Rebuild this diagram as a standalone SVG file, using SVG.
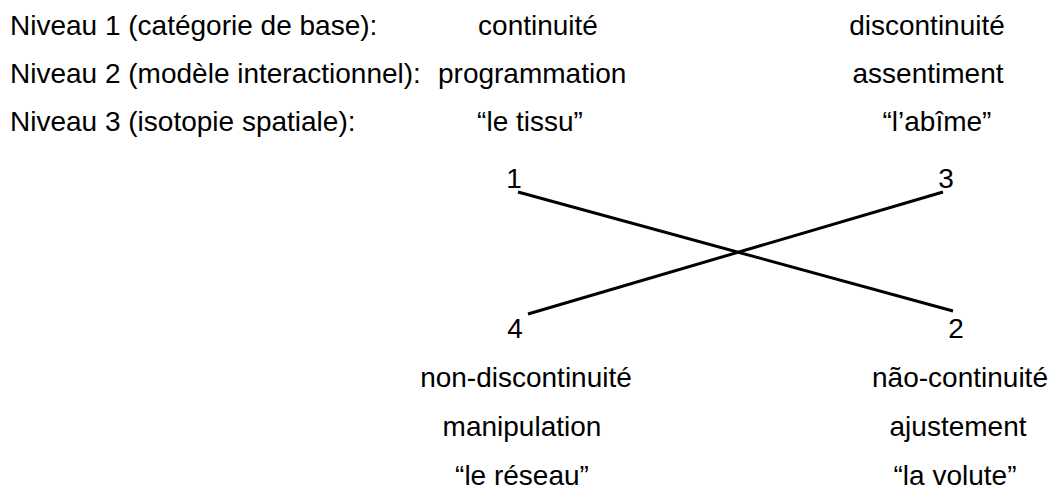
<svg xmlns="http://www.w3.org/2000/svg" width="1061" height="493" viewBox="0 0 1061 493">
<style>
text{font-family:"Liberation Sans",Arial,sans-serif;font-size:28px;fill:#000}
.m{text-anchor:middle}
line{stroke:#000;stroke-width:3;stroke-linecap:butt}
</style>
<rect width="1061" height="493" fill="#fff"/>
<g id="levels">
<text x="10" y="35">Niveau 1 (catégorie de base):</text>
<text x="10" y="83">Niveau 2 (modèle interactionnel):</text>
<text x="10" y="131">Niveau 3 (isotopie spatiale):</text>
</g>
<g id="node1">
<text class="m" x="538" y="35">continuité</text>
<text x="438" y="83">programmation</text>
<text class="m" x="530" y="131">“le tissu”</text>
<text class="m" x="514" y="188">1</text>
</g>
<g id="node3">
<text class="m" x="927" y="35">discontinuité</text>
<text class="m" x="928" y="83">assentiment</text>
<text class="m" x="937" y="131">“l’abîme”</text>
<text class="m" x="946" y="188">3</text>
</g>
<g id="node4">
<text class="m" x="515" y="338">4</text>
<text class="m" x="526" y="387">non-discontinuité</text>
<text class="m" x="522" y="436">manipulation</text>
<text class="m" x="522" y="485">“le réseau”</text>
</g>
<g id="node2">
<text class="m" x="956" y="338">2</text>
<text class="m" x="960" y="387">não-continuité</text>
<text class="m" x="958" y="436">ajustement</text>
<text class="m" x="955" y="485">“la volute”</text>
</g>
<g id="connectors">
<line x1="518" y1="192" x2="953" y2="311"/>
<line x1="943" y1="192" x2="528" y2="314"/>
</g>
</svg>
